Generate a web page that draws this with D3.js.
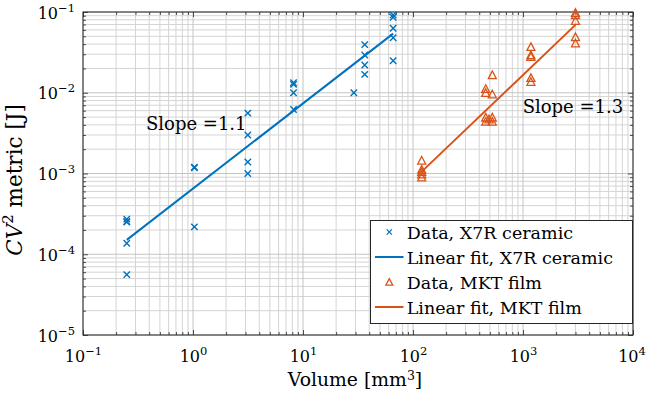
<!DOCTYPE html>
<html>
<head>
<meta charset="utf-8">
<script src="https://cdn.jsdelivr.net/npm/d3@7"></script>
<style>
  html, body { margin: 0; padding: 0; background: #fff; }
</style>
</head>
<body>
<svg id="chart" width="646" height="400"></svg>
<script>
// X7R ceramic capacitors: volume [mm^3] and CV^2 [J]
const ceramicVolume = [0.25, 0.25, 0.25, 0.25, 0.25,
  1.03, 1.03, 1.03,
  3.15, 3.15, 3.15, 3.15,
  8.2, 8.2, 8.2, 8.2,
  29,
  36.4, 36.4, 36.4, 36.4,
  66, 66, 66, 66, 66];
const ceramicCV2 = [2.72e-4, 2.55e-4, 2.5e-4, 1.37e-4, 5.6e-5,
  1.2e-3, 1.18e-3, 2.18e-4,
  5.6e-3, 3.0e-3, 1.39e-3, 1.0e-3,
  1.33e-2, 1.27e-2, 1.0e-2, 6.2e-3,
  1.0e-2,
  3.94e-2, 2.93e-2, 2.21e-2, 1.69e-2,
  9.2e-2, 8.6e-2, 6.3e-2, 4.8e-2, 2.49e-2];

// MKT film capacitors
const filmVolume = [120, 120, 120, 120, 120,
  458, 458, 458, 458, 491, 526, 526, 526, 526,
  1180, 1180, 1180, 1180, 1180,
  3000, 3000, 3000, 3000, 3000];
const filmCV2 = [1.45e-3, 1.12e-3, 1.05e-3, 9.8e-4, 9.0e-4,
  1.12e-2, 1.0e-2, 4.95e-3, 4.4e-3, 4.7e-3, 1.66e-2, 9.6e-3, 4.95e-3, 4.4e-3,
  3.7e-2, 2.94e-2, 2.8e-2, 1.53e-2, 1.37e-2,
  9.8e-2, 9.2e-2, 7.8e-2, 4.9e-2, 4.1e-2];

// Power-law fits  CV^2 = a * V^slope
const fitNames = ["X7R ceramic", "MKT film"];
const fitSlope = [1.055, 1.3];
const fitCoef = [6.5e-4, 2.09e-6];
const fitRangeMin = [0.25, 120];
const fitRangeMax = [66, 3000];

const xTickValues = [1e-1, 1e0, 1e1, 1e2, 1e3, 1e4];
const xTickExponents = ["\u22121", "0", "1", "2", "3", "4"];
const yTickValues = [1e-5, 1e-4, 1e-3, 1e-2, 1e-1];
const yTickExponents = ["\u22125", "\u22124", "\u22123", "\u22122", "\u22121"];

const FONT = "'DejaVu Serif', serif";
const blue = "#0072BD", orange = "#D95319";
const svg = d3.select("#chart").attr("font-family", FONT);
const L = 83, R = 633, T = 12, B = 335;

const x = d3.scaleLog().domain([1e-1, 1e4]).range([L, R]);
const y = d3.scaleLog().domain([1e-5, 1e-1]).range([B, T]);

function minorValues(lo, hi) {
  const out = [];
  for (let e = lo; e < hi; e++) for (let k = 2; k <= 9; k++) out.push(k * Math.pow(10, e));
  return out;
}
const xMinor = minorValues(-1, 4);
const yMinor = minorValues(-5, -1);

// grid
const grid = svg.append("g");
grid.selectAll(".gxm").data(xMinor).join("line")
  .attr("x1", d => x(d)).attr("x2", d => x(d)).attr("y1", T).attr("y2", B)
  .attr("stroke", "#d4d4d4").attr("stroke-width", 1);
grid.selectAll(".gym").data(yMinor).join("line")
  .attr("y1", d => y(d)).attr("y2", d => y(d)).attr("x1", L).attr("x2", R)
  .attr("stroke", "#d4d4d4").attr("stroke-width", 1);
grid.selectAll(".gxM").data(xTickValues).join("line")
  .attr("x1", d => x(d)).attr("x2", d => x(d)).attr("y1", T).attr("y2", B)
  .attr("stroke", "#c4c4c4").attr("stroke-width", 1);
grid.selectAll(".gyM").data(yTickValues).join("line")
  .attr("y1", d => y(d)).attr("y2", d => y(d)).attr("x1", L).attr("x2", R)
  .attr("stroke", "#c4c4c4").attr("stroke-width", 1);

// axes with inward ticks on all four sides
function addAxis(axisFn, scale, transform, values, size) {
  const g = svg.append("g").attr("transform", transform)
    .call(axisFn(scale).tickValues(values).tickSizeInner(-size).tickSizeOuter(0).tickFormat(() => ""));
  g.attr("font-family", FONT);
  g.select(".domain").remove();
  g.selectAll(".tick line").attr("stroke", "#262626").attr("stroke-width", 0.8);
  return g;
}
addAxis(d3.axisBottom, x, `translate(0,${B})`, xMinor, 3);
addAxis(d3.axisTop, x, `translate(0,${T})`, xMinor, 3);
addAxis(d3.axisLeft, y, `translate(${L},0)`, yMinor, 3);
addAxis(d3.axisRight, y, `translate(${R},0)`, yMinor, 3);
const xAxisMajor = addAxis(d3.axisBottom, x, `translate(0,${B})`, xTickValues, 5);
addAxis(d3.axisTop, x, `translate(0,${T})`, xTickValues, 5);
const yAxisMajor = addAxis(d3.axisLeft, y, `translate(${L},0)`, yTickValues, 5);
addAxis(d3.axisRight, y, `translate(${R},0)`, yTickValues, 5);

// power-of-ten tick labels
const TICK_FS = 16, EXP_FS = 11.5;
xAxisMajor.selectAll(".tick text").each(function(d, i, nodes) {
  const last = i === nodes.length - 1;
  const t = d3.select(this).attr("y", 27).attr("dy", null)
    .attr("x", last ? -1.5 : 0)
    .attr("font-size", TICK_FS).attr("text-anchor", "middle").attr("fill", "#000");
  t.append("tspan").text("10");
  t.append("tspan").attr("font-size", EXP_FS).attr("dy", -7).text(xTickExponents[i]);
});
yAxisMajor.selectAll(".tick text").each(function(d, i) {
  const t = d3.select(this).attr("x", -8).attr("dy", null).attr("y", 6)
    .attr("font-size", TICK_FS).attr("text-anchor", "end").attr("fill", "#000");
  t.append("tspan").text("10");
  t.append("tspan").attr("font-size", EXP_FS).attr("dy", -7).text(yTickExponents[i]);
});

// frame
svg.append("rect").attr("x", L).attr("y", T).attr("width", R - L).attr("height", B - T)
  .attr("fill", "none").attr("stroke", "#262626").attr("stroke-width", 1);

// fit lines
const line = d3.line().x(d => x(d[0])).y(d => y(d[1]));
const fitColors = [blue, orange];
fitSlope.forEach((s, i) => {
  const pts = [fitRangeMin[i], fitRangeMax[i]].map(v => [v, fitCoef[i] * Math.pow(v, s)]);
  svg.append("path").datum(pts).attr("d", line)
    .attr("fill", "none").attr("stroke", fitColors[i]).attr("stroke-width", 2);
});

// markers
const crossPath = r => `M${-r},${-r}L${r},${r}M${-r},${r}L${r},${-r}`;
const triPath = r => `M0,${-r}L${r * 1.0},${r * 0.9}L${-r * 1.0},${r * 0.9}Z`;

svg.append("g").selectAll("path").data(ceramicVolume.map((v, i) => [v, ceramicCV2[i]])).join("path")
  .attr("transform", d => `translate(${x(d[0])},${y(d[1])})`)
  .attr("d", crossPath(3.2)).attr("fill", "none").attr("stroke", blue).attr("stroke-width", 1.4);

svg.append("g").selectAll("path").data(filmVolume.map((v, i) => [v, filmCV2[i]])).join("path")
  .attr("transform", d => `translate(${x(d[0])},${y(d[1])})`)
  .attr("d", triPath(4)).attr("fill", "none").attr("stroke", orange).attr("stroke-width", 1.3);

// slope annotations
const fmt = d3.format(".1f");
svg.append("text").attr("x", x(0.374)).attr("y", y(3.46e-3)).attr("font-size", 18)
  .text("Slope =" + fmt(fitSlope[0]));
svg.append("text").attr("x", x(993)).attr("y", y(5.66e-3)).attr("font-size", 18)
  .text("Slope =" + fmt(fitSlope[1]));

// axis titles
const xl = svg.append("text").attr("x", 355).attr("y", 386).attr("font-size", 18.8).attr("text-anchor", "middle");
xl.append("tspan").text("Volume [mm");
xl.append("tspan").attr("font-size", 12.5).attr("dy", -6.5).text("3");
xl.append("tspan").attr("dy", 6.5).text("]");

const yl = svg.append("text").attr("transform", "translate(22,180) rotate(-90)")
  .attr("font-size", 21.5).attr("text-anchor", "middle");
yl.append("tspan").attr("font-style", "italic").text("CV");
yl.append("tspan").attr("font-size", 15).attr("dy", -9).text("2");
yl.append("tspan").attr("dy", 9).text(" metric [J]");

// legend
const lg = svg.append("g");
lg.append("rect").attr("x", 370.5).attr("y", 220.5).attr("width", 262).attr("height", 103)
  .attr("fill", "#fff").attr("stroke", "#262626").attr("stroke-width", 1);
const rows = [
  { kind: "cross", color: blue, label: "Data, " + fitNames[0] },
  { kind: "line", color: blue, label: "Linear fit, " + fitNames[0] },
  { kind: "tri", color: orange, label: "Data, " + fitNames[1] },
  { kind: "line", color: orange, label: "Linear fit, " + fitNames[1] }
];
rows.forEach((r, i) => {
  const cy = 232 + i * 25;
  if (r.kind === "line") {
    lg.append("line").attr("x1", 375).attr("x2", 403.5).attr("y1", cy).attr("y2", cy)
      .attr("stroke", r.color).attr("stroke-width", 2);
  } else if (r.kind === "cross") {
    lg.append("path").attr("transform", `translate(389.3,${cy})`).attr("d", crossPath(2.6))
      .attr("fill", "none").attr("stroke", r.color).attr("stroke-width", 1.3);
  } else {
    lg.append("path").attr("transform", `translate(389.3,${cy})`).attr("d", triPath(3.4))
      .attr("fill", "none").attr("stroke", r.color).attr("stroke-width", 1.3);
  }
  lg.append("text").attr("x", 406.7).attr("y", cy + 6.5).attr("font-size", 17.5).text(r.label);
});
</script>
</body>
</html>
